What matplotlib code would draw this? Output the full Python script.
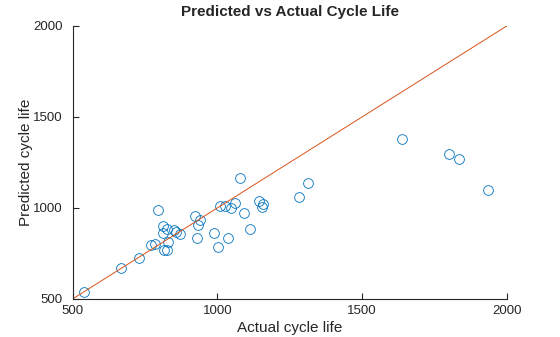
import matplotlib.pyplot as plt

plt.rcParams['font.family'] = ['Liberation Sans', 'DejaVu Sans']

# values
actual = [540, 667, 730, 772, 786, 796, 814, 827, 814, 850, 859, 872, 830,
          816, 827, 922, 942, 934, 930, 1011, 1028, 1046, 1060, 1092, 1079,
          1143, 1158, 1154, 1112, 990, 1037, 1003, 1282, 1313, 1639, 1799,
          1834, 1934]
predicted = [537, 669, 725, 797, 800, 987, 901, 886, 862, 881, 866, 857, 811,
             767, 767, 956, 934, 909, 835, 1013, 1013, 999, 1030, 975, 1164,
             1038, 1020, 1007, 882, 860, 833, 783, 1063, 1135, 1380, 1298,
             1270, 1096]
lims = [500, 2000]
ticks = [500, 1000, 1500, 2000]

fig = plt.figure(figsize=(5.6, 3.37), dpi=100)
ax = fig.add_axes([0.1295, 0.1128, 0.7755, 0.8102])

ax.plot(actual, predicted, 'o', mfc='none', mec='#0072BD', ms=7, mew=0.6)
ax.plot(lims, lims, '-', color='#D95319', lw=0.7)

ax.set_xlim(lims)
ax.set_ylim(lims)
ax.set_xticks(ticks)
ax.set_yticks(ticks)
for s in ['top', 'right']:
    ax.spines[s].set_visible(False)
for s in ['left', 'bottom']:
    ax.spines[s].set_color('#262626')
    ax.spines[s].set_linewidth(0.8)
ax.tick_params(direction='in', length=4, width=0.8, colors='#262626',
               labelsize=9.5)
ax.tick_params(axis='y', pad=7)
ax.tick_params(axis='x', pad=4)

ax.set_xlabel('Actual cycle life', fontsize=11, color='#262626', labelpad=3)
ax.set_ylabel('Predicted cycle life', fontsize=11, color='#262626',
              va='center')
ax.yaxis.set_label_coords(-0.108, 0.5)
ax.set_title('Predicted vs Actual Cycle Life', fontsize=11, fontweight='bold',
             color='#262626', pad=7)

plt.savefig('out.png', dpi=100)
